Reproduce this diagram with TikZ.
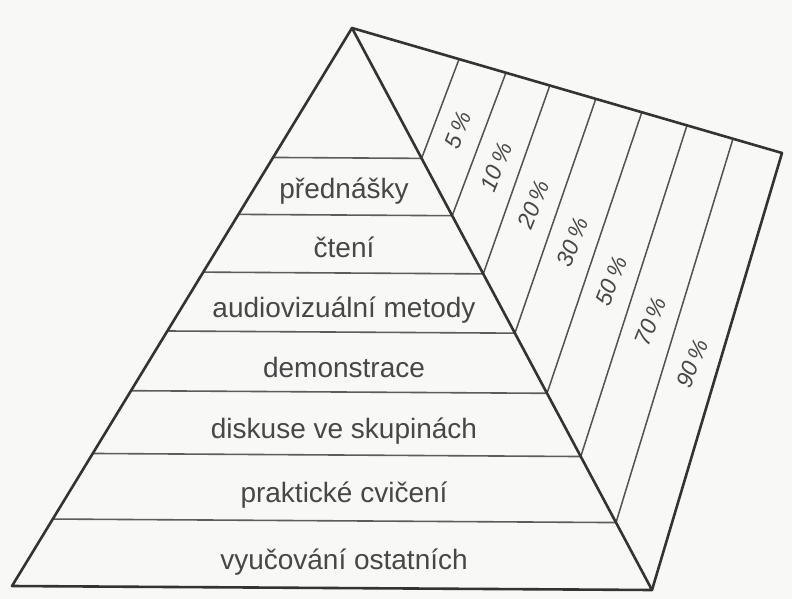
\documentclass[tikz,border=0pt]{standalone}
\usepackage{fontspec}
\setmainfont{Liberation Sans}
\usetikzlibrary{calc}
\definecolor{ink}{HTML}{333333}
\definecolor{paper}{HTML}{F8F8F6}

\begin{document}
\begin{tikzpicture}
  [x=1pt,y=-1pt,line join=round,
   edge/.style={draw=ink,line width=2.6pt},
   band/.style={draw=ink!80,line width=1.6pt},
   strip/.style={draw=ink!85,line width=1.5pt},
   lbl/.style={anchor=base,text=ink!90,font=\fontsize{28}{30}\selectfont},
   pct/.style={rotate=68,inner sep=1pt,text=ink!90,font=\itshape\fontsize{23}{26}\selectfont}]
  \fill[paper] (0,0) rectangle (792,599);
  \useasboundingbox (0,0) rectangle (792,599);

  \coordinate (a) at (352,28);
  \coordinate (l) at (12,586);
  \coordinate (r) at (652,590);
  \coordinate (t) at (782,153);

  % bands of the pyramid and the strips on its side
  \foreach \i/\f/\g in {1/.232/.249,2/.334/.358,3/.4375/.460,4/.543/.567,
      5/.65/.674,6/.7625/.779,7/.88/.886} {
    \coordinate (l\i) at ($(a)!\f!(l)$);
    \coordinate (r\i) at ($(a)!\f!(r)$);
    \coordinate (t\i) at ($(a)!\g!(t)$);
  }
  \coordinate (r8) at (r);
  \coordinate (t8) at (t);

  \foreach \i in {1,...,7} {
    \draw[band] (l\i) -- (r\i);
    \draw[strip] (r\i) -- (t\i);
  }

  \draw[edge] (a) -- (l) -- (r) -- cycle;
  \draw[edge] (a) -- (t) -- (r);

  \foreach \n/\y/\txt in {prednasky/198/přednášky,cteni/257/čtení,
      audio/317/audiovizuální metody,demo/377/demonstrace,
      diskuse/438/diskuse ve skupinách,cviceni/502/praktické cvičení,
      vyucovani/569/vyučování ostatních}
    \node[lbl] (\n) at (344,\y) {\txt};

  \foreach \i/\j/\p in {1/2/5,2/3/10,3/4/20,4/5/30,5/6/50,6/7/70,7/8/90} {
    \coordinate (pb\i) at ($(r\i)!.5!(r\j)$);
    \coordinate (pt\i) at ($(t\i)!.5!(t\j)$);
    \node[pct] (p\i) at ($(pb\i)!.47!(pt\i)$) {\p\,\%};
  }

\end{tikzpicture}
\end{document}
